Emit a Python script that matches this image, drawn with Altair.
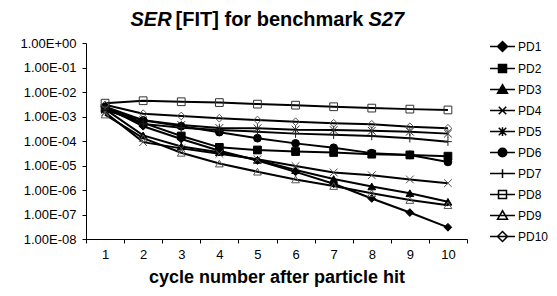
import altair as alt
import pandas as pd

FONT = "Liberation Sans, Arial, sans-serif"

# ---- data ----
cycles = [1, 2, 3, 4, 5, 6, 7, 8, 9, 10]
series = ["PD1", "PD2", "PD3", "PD4", "PD5", "PD6", "PD7", "PD8", "PD9", "PD10"]

pd1 = [2.5e-3, 4.0e-4, 1.2e-4, 4.0e-5, 1.6e-5, 5.5e-6, 1.8e-6, 4.5e-7, 1.2e-7, 3.0e-8]
pd2 = [2.2e-3, 5.5e-4, 1.6e-4, 5.5e-5, 4.3e-5, 3.7e-5, 3.4e-5, 2.9e-5, 2.7e-5, 2.4e-5]
pd3 = [2.0e-3, 1.7e-4, 6.0e-5, 3.5e-5, 1.7e-5, 6.5e-6, 2.8e-6, 1.4e-6, 7.4e-7, 3.3e-7]
pd4 = [1.5e-3, 9.0e-5, 5.0e-5, 3.0e-5, 1.8e-5, 9.5e-6, 5.2e-6, 4.0e-6, 2.7e-6, 1.9e-6]
pd5 = [1.8e-3, 7.0e-4, 4.5e-4, 3.4e-4, 3.3e-4, 2.9e-4, 2.8e-4, 2.6e-4, 2.4e-4, 2.0e-4]
pd6 = [2.5e-3, 7.0e-4, 4.0e-4, 2.3e-4, 1.3e-4, 8.0e-5, 5.3e-5, 3.2e-5, 2.7e-5, 1.4e-5]
pd7 = [2.0e-3, 5.0e-4, 3.5e-4, 2.8e-4, 2.4e-4, 2.0e-4, 1.8e-4, 1.6e-4, 1.3e-4, 9.4e-5]
pd8 = [3.5e-3, 4.4e-3, 4.0e-3, 3.7e-3, 3.2e-3, 2.9e-3, 2.5e-3, 2.2e-3, 2.0e-3, 1.85e-3]
pd9 = [1.2e-3, 1.3e-4, 3.3e-5, 1.2e-5, 5.6e-6, 2.7e-6, 1.45e-6, 7.4e-7, 3.9e-7, 2.4e-7]
pd10 = [3.0e-3, 1.3e-3, 1.05e-3, 8.5e-4, 7.2e-4, 6.1e-4, 5.3e-4, 4.8e-4, 3.8e-4, 3.3e-4]
series_values = [pd1, pd2, pd3, pd4, pd5, pd6, pd7, pd8, pd9, pd10]

x_labels = ["1", "2", "3", "4", "5", "6", "7", "8", "9", "10"]
y_tick_values = [1.0, 1e-1, 1e-2, 1e-3, 1e-4, 1e-5, 1e-6, 1e-7, 1e-8]
y_tick_labels = ["1.00E+00", "1.00E-01", "1.00E-02", "1.00E-03", "1.00E-04",
                 "1.00E-05", "1.00E-06", "1.00E-07", "1.00E-08"]

rows = []
for name, vals in zip(series, series_values):
    for c, v in zip(cycles, vals):
        rows.append({"series": name, "cycle": c, "ser": v})
df = pd.DataFrame(rows)

# ---- styling ----
X_PATH = "M-1,-1L1,1M-1,1L1,-1"
AST_PATH = "M-1,-1L1,1M-1,1L1,-1M0,-1.1L0,1.1"
PLUS_PATH = "M-1,0L1,0M0,-1.1L0,1.1"
marker_shapes = ["diamond", "square", "triangle-up", X_PATH, AST_PATH,
                 "circle", PLUS_PATH, "square", "triangle-up", "diamond"]
marker_fills = ["#000", "#000", "#000", "transparent", "transparent",
                "#000", "transparent", "transparent", "transparent", "transparent"]
marker_strokes = ["#000", "#000", "#000", "#555", "#333",
                  "#000", "#222", "#333", "#555", "#555"]

L = "M-1,0L1,0"
legend_paths = [
    L + "M0,-0.4L0.4,0L0,0.4L-0.4,0Z",
    L + "M-0.32,-0.32L0.32,-0.32L0.32,0.32L-0.32,0.32Z",
    L + "M0,-0.38L0.4,0.3L-0.4,0.3Z",
    L + "M-0.3,-0.3L0.3,0.3M-0.3,0.3L0.3,-0.3",
    L + "M-0.3,-0.3L0.3,0.3M-0.3,0.3L0.3,-0.3M0,-0.35L0,0.35",
    L + "M0.34,0A0.34,0.34,0,1,1,-0.34,0A0.34,0.34,0,1,1,0.34,0Z",
    L + "M0,-0.35L0,0.35",
    L + "M-0.32,-0.32L0.32,-0.32L0.32,0.32L-0.32,0.32Z",
    L + "M0,-0.38L0.4,0.3L-0.4,0.3Z",
    L + "M0,-0.4L0.4,0L0,0.4L-0.4,0Z",
]

x_ticks = [c - 0.5 for c in cycles] + [cycles[-1] + 0.5]
x_label_arr = "[" + ",".join("'%s'" % s for s in x_labels) + "]"
y_label_arr = "[" + ",".join("'%s'" % s for s in y_tick_labels) + "]"

W, H = 381, 196

x_enc = alt.X(
    "cycle:Q",
    scale=alt.Scale(domain=[x_ticks[0], x_ticks[-1]], nice=False, zero=False),
    axis=alt.Axis(
        values=x_ticks,
        labelExpr="datum.value < %s ? %s[round(datum.value - 0.5)] : ''" % (cycles[-1], x_label_arr),
        labelOffset=W / len(cycles) / 2,
        tickSize=4, labelPadding=5, labelFlush=False, labelOverlap=False, grid=False,
        domainColor="#000", tickColor="#000", labelColor="#000",
        labelFont=FONT, labelFontSize=13,
        title="cycle number after particle hit", titleFont=FONT, titleFontSize=18,
        titleFontWeight="bold", titleColor="#000", titlePadding=7,
    ),
)
y_enc = alt.Y(
    "ser:Q",
    scale=alt.Scale(type="log", domain=[y_tick_values[-1], y_tick_values[0]], nice=False),
    axis=alt.Axis(
        values=y_tick_values,
        labelExpr="%s[round(-log(datum.value)/LN10)]" % y_label_arr,
        tickSize=4, labelPadding=6, labelFlush=False, labelOverlap=False, grid=False,
        domainColor="#000", tickColor="#000", labelColor="#000",
        labelFont=FONT, labelFontSize=13, title=None,
    ),
)

base = alt.Chart(df)

lines = base.mark_line(color="#000", strokeWidth=2).encode(
    x=x_enc, y=y_enc, detail="series:N", order="cycle:Q"
)

points = base.mark_point(size=60, opacity=1, strokeWidth=1).encode(
    x=x_enc, y=y_enc,
    shape=alt.Shape("series:N", scale=alt.Scale(domain=series, range=marker_shapes), legend=None),
    fill=alt.Fill("series:N", scale=alt.Scale(domain=series, range=marker_fills), legend=None),
    stroke=alt.Stroke("series:N", scale=alt.Scale(domain=series, range=marker_strokes), legend=None),
)

leg_props = dict(
    title=None, orient="none", legendX=403, legendY=-10,
    symbolSize=625, symbolStrokeWidth=1.5, symbolOpacity=1,
    labelFont=FONT, labelFontSize=12, labelColor="#000", labelOffset=2,
    rowPadding=0,
)
legend_layer = base.transform_filter("datum.cycle < 0").mark_point(
    size=625, opacity=1, strokeWidth=1.5
).encode(
    shape=alt.Shape("series:N", scale=alt.Scale(domain=series, range=legend_paths),
                    legend=alt.Legend(**leg_props)),
    fill=alt.Fill("series:N", scale=alt.Scale(domain=series, range=marker_fills),
                  legend=alt.Legend(**leg_props)),
    stroke=alt.Stroke("series:N", scale=alt.Scale(domain=series, range=["#000"] * len(series)),
                      legend=alt.Legend(**leg_props)),
)

title_src = alt.Data(values=[{"k": 0}])
TY = -16.8
t1 = alt.Chart(title_src).mark_text(
    font=FONT, fontSize=20, fontWeight="bold", fontStyle="italic", align="right",
    baseline="alphabetic", color="#000"
).encode(x=alt.value(85.6), y=alt.value(TY), text=alt.value("SER"))
t2 = alt.Chart(title_src).mark_text(
    font=FONT, fontSize=20, fontWeight="bold", align="center",
    baseline="alphabetic", color="#000"
).encode(x=alt.value(183.5), y=alt.value(TY), text=alt.value("[FIT] for benchmark"))
t3 = alt.Chart(title_src).mark_text(
    font=FONT, fontSize=20, fontWeight="bold", fontStyle="italic", align="left",
    baseline="alphabetic", color="#000"
).encode(x=alt.value(282.5), y=alt.value(TY), text=alt.value("S27"))

chart = alt.layer(lines, points, legend_layer, t1, t2, t3).resolve_scale(
    shape="independent", fill="independent", stroke="independent"
).properties(
    width=W, height=H,
    autosize=alt.AutoSizeParams(type="none"),
    padding={"left": 78, "top": 35, "right": 82, "bottom": 49},
    background="white",
).configure_view(strokeWidth=0)

chart.save("out.html", embed_options={"renderer": "svg", "actions": False})
